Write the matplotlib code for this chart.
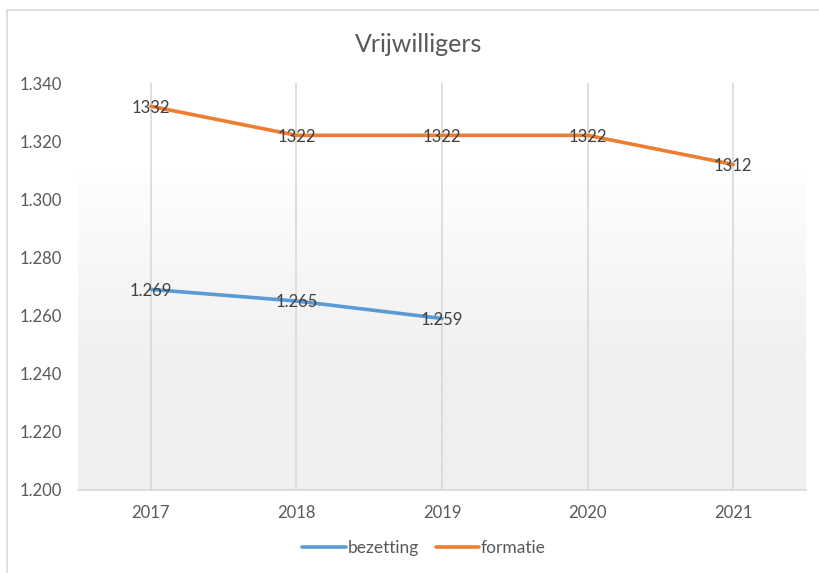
import numpy as np
import matplotlib
matplotlib.use("Agg")
import matplotlib.pyplot as plt
from matplotlib.patches import Rectangle

plt.rcParams['font.family'] = ['Lato', 'DejaVu Sans']

# data
jaren = ['2017', '2018', '2019', '2020', '2021']
bezetting = [1269, 1265, 1259]
formatie = [1332, 1322, 1322, 1322, 1312]
bezetting_lbl = ['1.269', '1.265', '1.259']
formatie_lbl = ['1332', '1322', '1322', '1322', '1312']
yticks = [1200, 1220, 1240, 1260, 1280, 1300, 1320, 1340]

fig = plt.figure(figsize=(8.2, 5.73), dpi=100)
ax = fig.add_axes([78/820, 1-490/573, (806-78)/820, (490-83)/573])

# chart frame
fig.patches.append(Rectangle((7/820, -0.05), 1.0, 1-10/573+0.05,
                             transform=fig.transFigure, fill=False,
                             edgecolor='#d9d9d9', linewidth=1.2))

# gradient background in plot area (light on top, grey at bottom)
grad = np.linspace(1, 0, 256).reshape(-1, 1)
cmap = matplotlib.colors.LinearSegmentedColormap.from_list('g', ['#fefefe', '#f0f0f0'])
ax.imshow(grad, extent=(-0.5, 4.5, 1200, 1310), aspect='auto', cmap=cmap,
          zorder=0, origin='lower', vmin=0, vmax=0.6)

x = np.arange(len(jaren))
for xi in x:
    ax.axvline(xi, color='#d9d9d9', linewidth=1.2, zorder=1)

ax.plot(x[:len(bezetting)], bezetting, color='#5B9BD5', linewidth=2.6,
        label='bezetting', zorder=3, solid_capstyle='round')
ax.plot(x, formatie, color='#ED7D31', linewidth=2.6, label='formatie',
        zorder=3, solid_capstyle='round')

for xi, v, t in zip(x, bezetting, bezetting_lbl):
    ax.text(xi, v - 0.5, t, ha='center', va='center', fontsize=12,
            color='#404040', zorder=4)
for xi, v, t in zip(x, formatie, formatie_lbl):
    ax.text(xi, v - 0.5, t, ha='center', va='center', fontsize=12,
            color='#404040', zorder=4)

ax.set_xlim(-0.5, 4.5)
ax.set_ylim(1200, 1340)
ax.set_xticks(x)
ax.set_xticklabels(jaren)
ax.set_yticks(yticks)
ax.set_yticklabels(['1.%03d' % (v - 1000) for v in yticks])
ax.tick_params(axis='both', length=0, labelsize=12, labelcolor='#595959')
ax.tick_params(axis='y', pad=11.5)
ax.tick_params(axis='x', pad=10.5)

for s in ['top', 'right', 'left']:
    ax.spines[s].set_visible(False)
ax.spines['bottom'].set_color('#d9d9d9')
ax.spines['bottom'].set_linewidth(1.2)
ax.patch.set_alpha(0)

fig.text(419/820, 1-45/573, 'Vrijwilligers', ha='center', va='center',
         fontsize=18, color='#595959')

fig.legend(loc='center', bbox_to_anchor=(424/820, 1-548/573), ncol=2,
           frameon=False, fontsize=12.5, labelcolor='#595959',
           handlelength=2.5, handletextpad=0.1, columnspacing=1.0)

fig.savefig('out.png', dpi=100)
